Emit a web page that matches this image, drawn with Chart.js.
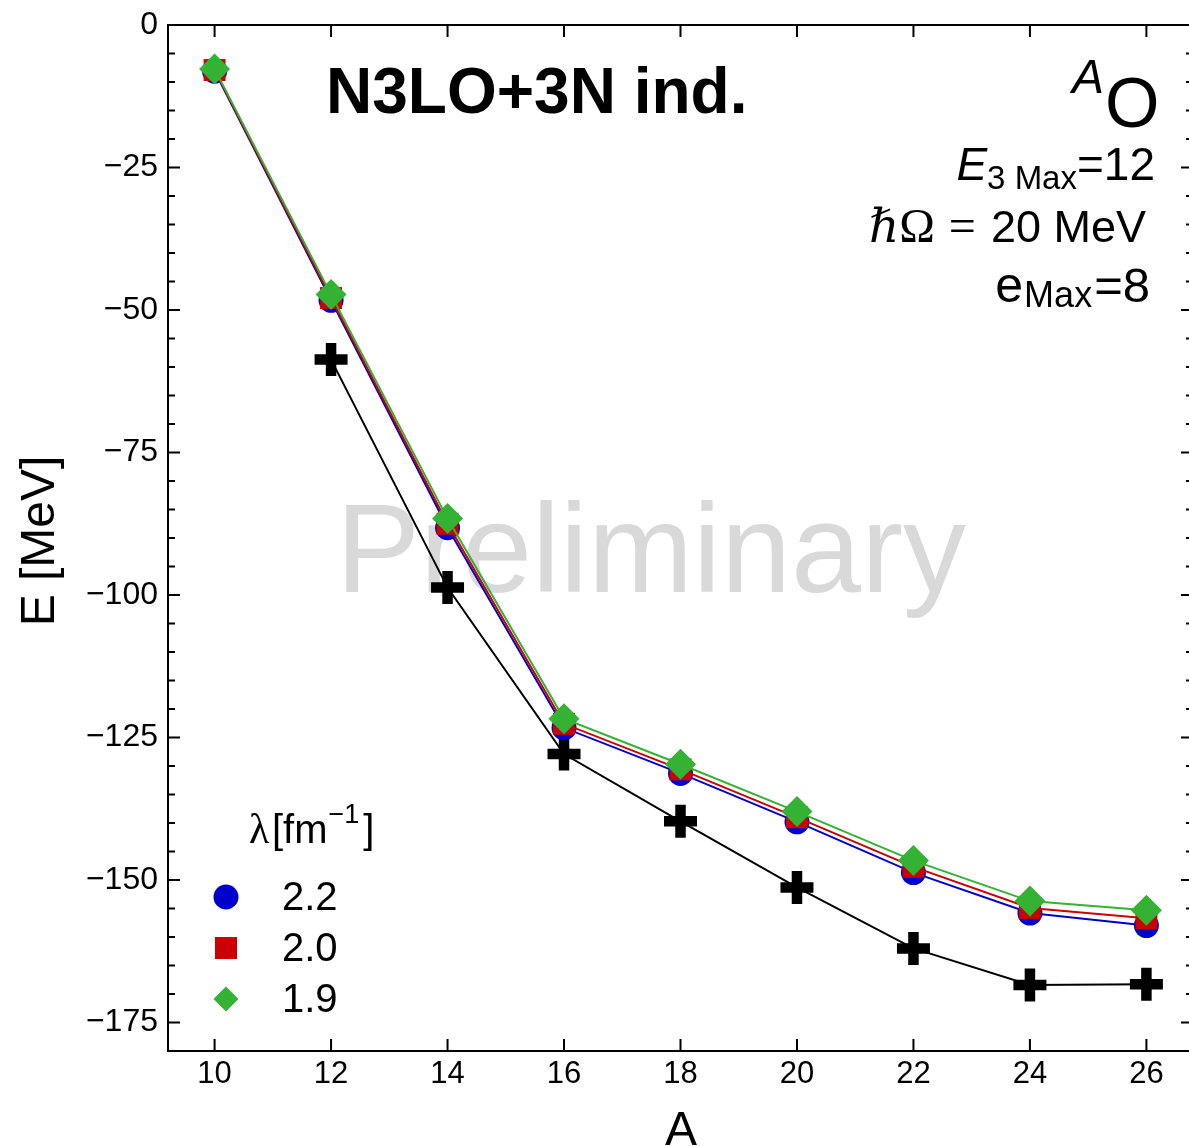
<!DOCTYPE html>
<html>
<head>
<meta charset="utf-8">
<script src="https://cdn.jsdelivr.net/npm/chart.js@4.4.1/dist/chart.umd.min.js"></script>
<style>
html, body { margin: 0; padding: 0; overflow: hidden; background: #fff; }
canvas { display: block; }
</style>
</head>
<body>
<canvas id="chart" width="1196" height="1146"></canvas>
<script>
// mass number A of the oxygen isotopes
const mass_numbers = [10, 12, 14, 16, 18, 20, 22, 24, 26];
// ground state energies [MeV] for each lambda [fm^-1]
const energy_l22 = [-8.1, -48.3, -88.2, -123.3, -131.3, -139.8, -148.7, -155.8, -158.0];
const energy_l20 = [-7.9, -47.9, -87.5, -122.6, -130.6, -139.0, -147.7, -154.9, -156.7];
const energy_l19 = [-7.7, -47.3, -86.6, -121.7, -129.7, -138.0, -146.6, -153.7, -155.3];
// black crosses (no value for A=10)
const energy_exp = [null, -58.7, -98.7, -127.9, -139.7, -151.3, -162.0, -168.4, -168.3];
const legend_labels = ["2.2", "2.0", "1.9"];

const x_ticks = [10, 12, 14, 16, 18, 20, 22, 24, 26];
const y_ticks = [0, -25, -50, -75, -100, -125, -150, -175];
const y_minor_step = 5;

const blue = "#0000cc";
const red = "#cc0000";
const green = "#33b233";
const sans = "'Liberation Sans', Arial, sans-serif";
const serif = "'Liberation Serif', 'DejaVu Serif', serif";

function to_points(values) {
	return mass_numbers
		.map((a, i) => ({ x: a, y: values[i] }))
		.filter(p => p.y !== null);
}

function minus(v) {
	return v < 0 ? "\u2212" + Math.abs(v) : String(v);
}

// draws a list of text pieces, ending at right_x
function draw_runs(ctx, runs, right_x, baseline) {
	let total = 0;
	runs.forEach(r => {
		ctx.font = r.font;
		r.w = ctx.measureText(r.text).width;
		total += r.w + (r.gap || 0);
	});
	let x = right_x - total;
	runs.forEach(r => {
		ctx.font = r.font;
		ctx.fillText(r.text, x, baseline + (r.dy || 0));
		x += r.w + (r.gap || 0);
	});
}

function legend_marker(ctx, style, color, x, y) {
	ctx.fillStyle = color;
	ctx.beginPath();
	if (style === "circle") {
		ctx.arc(x, y, 12.5, 0, Math.PI * 2);
	} else if (style === "rect") {
		ctx.rect(x - 11, y - 11, 22, 22);
	} else {
		ctx.moveTo(x, y - 12.5);
		ctx.lineTo(x + 12.5, y);
		ctx.lineTo(x, y + 12.5);
		ctx.lineTo(x - 12.5, y);
		ctx.closePath();
	}
	ctx.fill();
}

const decorations = {
	id: "decorations",
	beforeDatasetsDraw(chart) {
		const ctx = chart.ctx;
		ctx.save();
		ctx.fillStyle = "#d9d9d9";
		ctx.font = "126px " + sans;
		ctx.textBaseline = "alphabetic";
		ctx.fillText("Preliminary", 336, 592);
		ctx.restore();
	},
	afterDraw(chart) {
		const ctx = chart.ctx;
		const { left, right, top, bottom } = chart.chartArea;
		const xs = chart.scales.x;
		const ys = chart.scales.y;
		ctx.save();

		// frame and inward ticks
		ctx.strokeStyle = "#000";
		ctx.lineWidth = 2;
		ctx.strokeRect(left, top, right - left, bottom - top);
		ctx.beginPath();
		x_ticks.forEach(v => {
			const px = xs.getPixelForValue(v);
			ctx.moveTo(px, bottom);
			ctx.lineTo(px, bottom - 12);
			ctx.moveTo(px, top);
			ctx.lineTo(px, top + 12);
		});
		for (let v = ys.min; v <= ys.max; v += y_minor_step) {
			const py = ys.getPixelForValue(v);
			const len = y_ticks.includes(v) ? 12 : 7;
			ctx.moveTo(left, py);
			ctx.lineTo(left + len, py);
			ctx.moveTo(right, py);
			ctx.lineTo(right - len, py);
		}
		ctx.stroke();

		ctx.fillStyle = "#000";
		ctx.textBaseline = "alphabetic";

		// axis titles
		ctx.font = "48px " + sans;
		ctx.textAlign = "center";
		ctx.fillText("A", 681, 1145);
		ctx.save();
		ctx.translate(54, 541);
		ctx.rotate(-Math.PI / 2);
		ctx.fillText("E [MeV]", 0, 0);
		ctx.restore();
		ctx.textAlign = "left";

		// title
		ctx.font = "bold 64px " + sans;
		ctx.fillText("N3LO+3N ind.", 326, 113);

		// nucleus label
		ctx.font = "italic 48px " + sans;
		ctx.fillText("A", 1072, 93);
		ctx.font = "70px " + sans;
		ctx.fillText("O", 1105, 127);

		// parameters
		draw_runs(ctx, [
			{ text: "E", font: "italic 46px " + sans },
			{ text: "3 Max", font: "33px " + sans, dy: 9 },
			{ text: "=12", font: "46px " + sans }
		], 1155, 180);
		draw_runs(ctx, [
			{ text: "\u210F", font: "italic 47px 'DejaVu Serif', serif" },
			{ text: "\u03A9", font: "48px " + serif, gap: 14 },
			{ text: "=", font: "48px " + serif, gap: 15 },
			{ text: "20 MeV", font: "45px " + sans }
		], 1146, 242);
		draw_runs(ctx, [
			{ text: "e", font: "50px " + sans, gap: 1 },
			{ text: "Max", font: "36px " + sans, dy: 5, gap: 2 },
			{ text: "=8", font: "49px " + sans }
		], 1150, 302);

		// legend
		ctx.font = "42px " + serif;
		ctx.fillText("\u03BB", 249, 843);
		ctx.font = "40px " + sans;
		ctx.fillText("[fm", 272, 843);
		let x = 272 + ctx.measureText("[fm").width + 1;
		ctx.font = "27px " + sans;
		ctx.fillText("\u22121", x, 823);
		x += ctx.measureText("\u22121").width + 4;
		ctx.font = "40px " + sans;
		ctx.fillText("]", x, 843);

		const styles = chart.data.datasets.slice(0, 3).reverse();
		const rows = [897, 948, 999];
		styles.forEach((ds, i) => {
			legend_marker(ctx, ds.pointStyle, ds.backgroundColor, 226, rows[i]);
			ctx.fillStyle = "#000";
			ctx.font = "40px " + sans;
			ctx.fillText(legend_labels[i], 282, rows[i] + 13);
		});

		ctx.restore();
	}
};

const data = {
	datasets: [
		{
			data: to_points(energy_l19),
			borderColor: green,
			backgroundColor: green,
			borderWidth: 2,
			pointStyle: "rectRot",
			pointRadius: 15.5,
			pointBorderWidth: 0
		},
		{
			data: to_points(energy_l20),
			borderColor: red,
			backgroundColor: red,
			borderWidth: 2,
			pointStyle: "rect",
			pointRadius: 15.5,
			pointBorderWidth: 0
		},
		{
			data: to_points(energy_l22),
			borderColor: blue,
			backgroundColor: blue,
			borderWidth: 2,
			pointStyle: "circle",
			pointRadius: 12.5,
			pointBorderWidth: 0
		},
		{
			data: to_points(energy_exp),
			borderColor: "#000",
			backgroundColor: "#000",
			borderWidth: 2,
			pointStyle: "cross",
			pointRadius: 16.5,
			pointBorderWidth: 10.5
		}
	]
};

const options = {
	responsive: false,
	animation: false,
	devicePixelRatio: 1,
	events: [],
	layout: {
		autoPadding: false,
		padding: { top: 25, right: 3, left: 0, bottom: 0 }
	},
	scales: {
		x: {
			type: "linear",
			min: 9.2,
			max: 26.8,
			afterBuildTicks: scale => {
				scale.ticks = x_ticks.map(v => ({ value: v }));
			},
			afterFit: scale => {
				scale.height = 95;
				scale.paddingLeft = 0;
				scale.paddingRight = 0;
			},
			grid: { display: false, drawTicks: false },
			border: { display: false },
			ticks: {
				padding: 5,
				color: "#000",
				font: { family: sans, size: 31 },
				maxRotation: 0,
				callback: v => String(v)
			}
		},
		y: {
			type: "linear",
			min: -180,
			max: 0,
			afterBuildTicks: scale => {
				scale.ticks = y_ticks.map(v => ({ value: v }));
			},
			afterFit: scale => {
				scale.width = 168;
				scale.paddingTop = 0;
				scale.paddingBottom = 0;
			},
			grid: { display: false, drawTicks: false },
			border: { display: false },
			ticks: {
				padding: 10,
				color: "#000",
				font: { family: sans, size: 32 },
				callback: v => minus(v)
			}
		}
	},
	plugins: {
		legend: { display: false },
		tooltip: { enabled: false }
	}
};

new Chart(document.getElementById("chart"), {
	type: "line",
	data: data,
	options: options,
	plugins: [decorations]
});
</script>
</body>
</html>
